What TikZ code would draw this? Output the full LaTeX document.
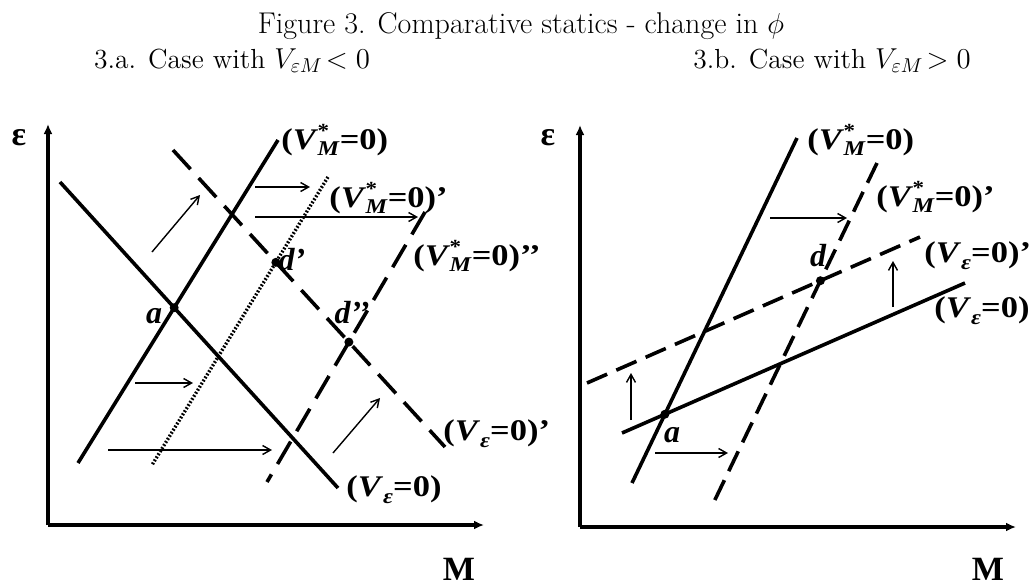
\documentclass[tikz,border=0pt]{standalone}
\usepackage{fontspec}
\newfontfamily\lab[FakeStretch=1.15]{Liberation Serif}
\newfontfamily\labn{Liberation Serif}
\usetikzlibrary{arrows.meta}
\newcommand{\VMs}{\textit{V}\kern-0.02em\rlap{\raisebox{0.85ex}{\fontsize{10}{10}\selectfont*}}\raisebox{-0.5ex}{\fontsize{10.5}{11}\selectfont\textit{M}}}
\newcommand{\Veps}{\textit{V}\raisebox{-0.5ex}{\fontsize{10.5}{11}\selectfont\textit{ε}}}
\begin{document}
\begin{tikzpicture}[x=0.5pt,y=-0.5pt,
  curve/.style={line width=1.8pt},
  dashA/.style={line width=1.8pt,dash pattern=on 13pt off 6pt},
  dashB/.style={line width=1.8pt,dash pattern=on 11pt off 5pt},
  dotline/.style={line width=1.7pt,dash pattern=on 0.9pt off 0.9pt},
  axis/.style={line width=1.9pt,-{Latex[length=5pt,width=4.5pt]}},
  shift arrow/.style={line width=0.7pt,-{Straight Barb[length=4pt,width=4.5pt]}},
  lbl/.style={font=\lab\bfseries\fontsize{15}{17}\selectfont,inner sep=0pt,anchor=west},
  pt/.style={font=\labn\bfseries\itshape\fontsize{16}{18}\selectfont,inner sep=0pt,anchor=base},
  axlbl/.style={font=\labn\bfseries\fontsize{17}{19}\selectfont,inner sep=0pt},
  dot/.style={circle,fill,inner sep=0pt,minimum size=4.5pt}]
\useasboundingbox (0,0) rectangle (1030,585);
% titles
\node[anchor=base,inner sep=0pt,font=\fontsize{15}{18}\selectfont] (title) at (521,33) {Figure 3. Comparative statics - change in $\phi$};
\node[anchor=base,inner sep=0pt,font=\fontsize{13.8}{16}\selectfont] (suba) at (232,68) {3.a. Case with $V_{\varepsilon M}\!< 0$};
\node[anchor=base,inner sep=0pt,font=\fontsize{13.8}{16}\selectfont] (subb) at (832,68) {3.b. Case with $V_{\varepsilon M}\!> 0$};
% ---------- left panel ----------
\coordinate (oA) at (48,525);
\coordinate (yA) at (48,124);
\coordinate (xA) at (484,525);
\draw[axis] (oA) -- (yA);
\draw[axis] (oA) -- (xA);
\node[axlbl] (epsA) at (19,138) {ε};
\node[axlbl] (MA) at (459,569) {M};
\coordinate (veA1) at (60,182);  \coordinate (veA2) at (338,488);
\coordinate (vmA1) at (278,140); \coordinate (vmA2) at (78,463);
\coordinate (vmpA1) at (328,177); \coordinate (vmpA2) at (152,465);
\coordinate (vmppA1) at (425,212); \coordinate (vmppA2) at (267,482);
\coordinate (vepA1) at (173,150); \coordinate (vepA2) at (445,447);
\draw[curve] (veA1) -- (veA2);
\draw[curve] (vmA1) -- (vmA2);
\draw[dotline] (vmpA1) -- (vmpA2);
\draw[dashA] (vmppA1) -- (vmppA2);
\draw[dashA] (vepA1) -- (vepA2);
\coordinate (a1) at (intersection of veA1--veA2 and vmA1--vmA2);
\coordinate (d1) at (intersection of vepA1--vepA2 and vmpA1--vmpA2);
\coordinate (d2) at (intersection of vepA1--vepA2 and vmppA1--vmppA2);
\node[dot] (da1) at (a1) {};
\node[dot] (dd1) at (d1) {};
\node[dot] (dd2) at (d2) {};
\node[pt] (la1) at (154,323) {a};
\node[pt] (ld1) at (292,270) {d’};
\node[pt] (ld2) at (352,323) {d’’};
\node[lbl] (L1) at (281,140) {(\VMs=0)};
\node[lbl] (L2) at (329,198) {(\VMs=0)’};
\node[lbl] (L3) at (413,256) {(\VMs=0)’’};
\node[lbl] (L4) at (443,434) {(\Veps=0)’};
\node[lbl] (L5) at (346,490) {(\Veps=0)};
\coordinate (s1a) at (152,252); \coordinate (s1b) at (200,195);
\coordinate (s2a) at (255,187); \coordinate (s2b) at (310,187);
\coordinate (s3a) at (255,217); \coordinate (s3b) at (418,217);
\coordinate (s4a) at (135,383); \coordinate (s4b) at (193,383);
\coordinate (s5a) at (108,450); \coordinate (s5b) at (272,450);
\coordinate (s6a) at (333,453); \coordinate (s6b) at (380,398);
\draw[shift arrow] (s1a) -- (s1b);
\draw[shift arrow] (s2a) -- (s2b);
\draw[shift arrow] (s3a) -- (s3b);
\draw[shift arrow] (s4a) -- (s4b);
\draw[shift arrow] (s5a) -- (s5b);
\draw[shift arrow] (s6a) -- (s6b);
% ---------- right panel ----------
\coordinate (oB) at (580,527);
\coordinate (yB) at (580,125);
\coordinate (xB) at (1016,527);
\draw[axis] (oB) -- (yB);
\draw[axis] (oB) -- (xB);
\node[axlbl] (epsB) at (548,138) {ε};
\node[axlbl] (MB) at (988,569) {M};
\coordinate (vmB1) at (797,138); \coordinate (vmB2) at (632,483);
\coordinate (vmpB1) at (877,163); \coordinate (vmpB2) at (711,508);
\coordinate (veB1) at (622,433); \coordinate (veB2) at (965,283);
\coordinate (vepB1) at (587,383); \coordinate (vepB2) at (920,237);
\draw[curve] (vmB1) -- (vmB2);
\draw[dashB] (vmpB1) -- (vmpB2);
\draw[curve] (veB1) -- (veB2);
\draw[dashB] (vepB1) -- (vepB2);
\coordinate (aB) at (intersection of veB1--veB2 and vmB1--vmB2);
\coordinate (dB) at (intersection of vepB1--vepB2 and vmpB1--vmpB2);
\node[dot] (daB) at (aB) {};
\node[dot] (ddB) at (dB) {};
\node[pt] (laB) at (672,442) {a};
\node[pt] (ldB) at (818,266) {d};
\node[lbl] (R1) at (807,140) {(\VMs=0)};
\node[lbl] (R2) at (876,197) {(\VMs=0)’};
\node[lbl] (R3) at (924,256) {(\Veps=0)’};
\node[lbl] (R4) at (934,311) {(\Veps=0)};
\coordinate (t1a) at (770,218); \coordinate (t1b) at (847,218);
\coordinate (t2a) at (893,307); \coordinate (t2b) at (893,261);
\coordinate (t3a) at (631,420); \coordinate (t3b) at (631,373);
\coordinate (t4a) at (655,453); \coordinate (t4b) at (728,453);
\draw[shift arrow] (t1a) -- (t1b);
\draw[shift arrow] (t2a) -- (t2b);
\draw[shift arrow] (t3a) -- (t3b);
\draw[shift arrow] (t4a) -- (t4b);
\end{tikzpicture}
\end{document}
